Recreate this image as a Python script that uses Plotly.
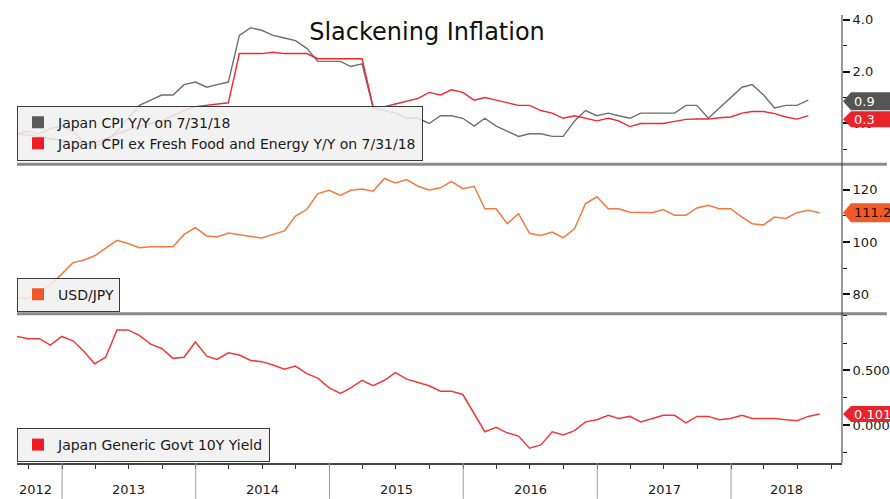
import pandas as pd
import plotly.graph_objects as go

# ---------------- data (monthly, month-end) ----------------
start_month = "2012-08-31"
try:
    months = pd.date_range(start_month, periods=73, freq="ME")
except Exception:
    months = pd.date_range(start_month, periods=73, freq="M")

cpi_yy = [-0.4, -0.3, -0.4, -0.2, -0.1, -0.3, -0.7, -0.9, -0.7, -0.3,
          0.2, 0.7, 0.9, 1.1, 1.1, 1.5, 1.6, 1.4, 1.5, 1.6,
          3.4, 3.7, 3.6, 3.4, 3.3, 3.2, 2.9, 2.4, 2.4, 2.4,
          2.2, 2.3, 0.6, 0.5, 0.4, 0.2, 0.2, 0.0, 0.3, 0.3,
          0.2, -0.1, 0.2, -0.1, -0.3, -0.5, -0.4, -0.4, -0.5, -0.5,
          0.1, 0.5, 0.3, 0.4, 0.3, 0.2, 0.4, 0.4, 0.4, 0.4,
          0.7, 0.7, 0.2, 0.6, 1.0, 1.4, 1.5, 1.1, 0.6, 0.7,
          0.7, 0.9]

cpi_core = [-0.4, -0.45, -0.5, -0.6, -0.65, -0.7, -0.8, -0.75, -0.6, -0.4,
            -0.25, -0.1, 0.0, 0.1, 0.3, 0.5, 0.65, 0.7, 0.75, 0.8,
            2.7, 2.7, 2.7, 2.75, 2.7, 2.7, 2.7, 2.5, 2.5, 2.5,
            2.5, 2.5, 0.65, 0.65, 0.75, 0.87, 0.97, 1.2, 1.1, 1.3,
            1.2, 0.9, 1.0, 0.9, 0.8, 0.7, 0.7, 0.5, 0.4, 0.2,
            0.3, 0.2, 0.1, 0.2, 0.1, -0.12, 0.0, 0.0, 0.0, 0.08,
            0.16, 0.17, 0.17, 0.22, 0.25, 0.4, 0.46, 0.46, 0.38, 0.25,
            0.17, 0.3]

usdjpy = [78.8, 78.4, 80.3, 83.6, 87.7, 92.1, 93.0, 94.7, 97.6, 100.6,
          99.4, 97.8, 98.2, 98.2, 98.2, 102.9, 105.5, 102.3, 101.9, 103.4,
          102.7, 102.2, 101.5, 102.9, 104.2, 109.9, 112.4, 118.5, 119.8, 117.8,
          119.8, 120.3, 119.4, 124.3, 122.6, 123.9, 121.3, 119.9, 120.7, 123.2,
          120.4, 121.3, 112.7, 112.7, 107.0, 110.8, 103.3, 102.5, 103.8, 101.6,
          105.1, 114.7, 117.3, 112.7, 112.7, 111.4, 111.4, 111.2, 112.4, 110.2,
          110.2, 113.0, 114.0, 112.7, 112.7, 109.5, 107.0, 106.5, 109.5, 109.0,
          111.2, 112.1, 111.2]

jgb10y = [0.81, 0.79, 0.79, 0.73, 0.81, 0.77, 0.68, 0.56, 0.62, 0.87,
          0.87, 0.82, 0.74, 0.70, 0.61, 0.62, 0.76, 0.63, 0.60, 0.66,
          0.64, 0.59, 0.58, 0.55, 0.51, 0.54, 0.47, 0.43, 0.34, 0.29,
          0.34, 0.41, 0.36, 0.41, 0.48, 0.42, 0.39, 0.36, 0.31, 0.31,
          0.28, 0.11, -0.06, -0.02, -0.07, -0.10, -0.21, -0.18, -0.06, -0.09,
          -0.05, 0.03, 0.05, 0.09, 0.06, 0.08, 0.03, 0.06, 0.09, 0.09,
          0.02, 0.08, 0.08, 0.05, 0.06, 0.09, 0.06, 0.06, 0.06, 0.05,
          0.04, 0.08, 0.101]

series_names = ["Japan CPI Y/Y on 7/31/18",
                "Japan CPI ex Fresh Food and Energy Y/Y on 7/31/18",
                "USD/JPY",
                "Japan Generic Govt 10Y Yield"]

year_labels = ["2012", "2013", "2014", "2015", "2016", "2017", "2018"]
cpi_ticks = [0, 2, 4]
cpi_ticktext = ["0.0", "2.0", "4.0"]
fx_ticks = [80, 100, 120]
fx_ticktext = ["80", "100", "120"]
yld_ticks = [0.0, 0.5]
yld_ticktext = ["0.000", "0.500"]
tag_text = ["0.9", "0.3", "111.2", "0.101"]

# ---------------- styling ----------------
FONT = "DejaVu Sans"
C_GRAY = "#6e6e6e"
C_RED = "#f0282d"
C_ORANGE = "#f5793f"
C_ORANGE_SQ = "#f0572a"
C_YLD = "#f03a3a"

x_range = ["2012-08-31", "2018-10-31"]
x_dates = list(months)
cpi_dates = x_dates[:len(cpi_yy)]

fig = go.Figure()

# top panel
fig.add_trace(go.Scatter(x=cpi_dates, y=cpi_yy, mode="lines", line=dict(color=C_GRAY, width=1.4),
                         xaxis="x", yaxis="y", showlegend=False, hoverinfo="skip"))
fig.add_trace(go.Scatter(x=cpi_dates, y=cpi_core, mode="lines", line=dict(color=C_RED, width=1.4),
                         xaxis="x", yaxis="y", showlegend=False, hoverinfo="skip"))
# middle
fig.add_trace(go.Scatter(x=x_dates, y=usdjpy, mode="lines", line=dict(color=C_ORANGE, width=1.5),
                         xaxis="x", yaxis="y2", showlegend=False, hoverinfo="skip"))
# bottom
fig.add_trace(go.Scatter(x=x_dates, y=jgb10y, mode="lines", line=dict(color=C_YLD, width=1.5),
                         xaxis="x", yaxis="y3", showlegend=False, hoverinfo="skip"))

# legend entries (square swatches)
legend_specs = [(series_names[0], "#5a5a5a", "legend", "y"),
                (series_names[1], "#ee1c25", "legend", "y"),
                (series_names[2], C_ORANGE_SQ, "legend2", "y2"),
                (series_names[3], "#ee1c25", "legend3", "y3")]
for name, col, lg, ya in legend_specs:
    fig.add_trace(go.Scatter(x=[None], y=[None], mode="markers", name=name,
                             marker=dict(symbol="square", size=13, color=col),
                             xaxis="x", yaxis=ya, legend=lg, showlegend=True))

# geometry (pixels in a 890x499 page)
H_PLOT = 463.0
def py(px):
    return (H_PLOT - px) / H_PLOT

legend_style = dict(bgcolor="rgba(240,240,240,0.85)", bordercolor="#3a3a3a", borderwidth=1,
                    font=dict(family=FONT, size=14, color="#1a1a1a"), xanchor="left",
                    x=0, itemsizing="constant", tracegroupgap=0)

tickfont = dict(family=FONT, size=13, color="#1a1a1a")
yax_common = dict(side="right", anchor="x", showgrid=False, zeroline=False, showline=False,
                  ticks="outside", ticklen=7, tickwidth=2, tickcolor="#111", tickfont=tickfont,
                  fixedrange=True)

shapes = []
annotations = []

# panel separators
for sep in (163, 313):
    shapes.append(dict(type="line", xref="paper", yref="paper", x0=0, x1=(890 - 17) / 828.0,
                       y0=py(sep), y1=py(sep), line=dict(color="#8a8a8a", width=3), layer="above"))
# right axis line
shapes.append(dict(type="line", xref="paper", yref="paper", x0=1, x1=1, y0=0, y1=py(13),
                   line=dict(color="#333", width=1)))

# year separators and labels
year_starts = [pd.Timestamp(f"{y}-01-01") for y in range(2013, 2019)]
for ys in year_starts:
    shapes.append(dict(type="line", xref="x", yref="paper", x0=ys, x1=ys, y0=0, y1=py(499),
                       line=dict(color="#9a9a9a", width=1)))
bounds = [pd.Timestamp(x_range[0])] + year_starts + [pd.Timestamp(x_range[1])]
for i, lab in enumerate(year_labels):
    a, b = bounds[i], bounds[i + 1]
    mid = a + (b - a) / 2
    if i == 0:
        mid = a + (b - a) * 0.42
    annotations.append(dict(xref="x", yref="paper", x=mid, y=py(490), text=lab, showarrow=False,
                            xanchor="center", yanchor="middle",
                            font=dict(family=FONT, size=13, color="#1a1a1a")))

# last-value tags
def value_tag(yref, val, fill, txtcol, text, dy=0.0, h=8.5):
    shapes.append(dict(type="path", xref="paper", yref=yref, xsizemode="pixel", ysizemode="pixel",
                       xanchor=1, yanchor=val,
                       path=f"M 1 {dy} L 9 {dy + h} L 60 {dy + h} L 60 {dy - h} L 9 {dy - h} Z",
                       fillcolor=fill, line=dict(color=fill, width=0), layer="above"))
    annotations.append(dict(xref="paper", yref=yref, x=1, y=val, xshift=10, yshift=dy,
                            xanchor="left", yanchor="middle", text=text, showarrow=False,
                            font=dict(family=FONT, size=13, color=txtcol)))

value_tag("y", cpi_yy[-1], "#555555", "#ffffff", tag_text[0], dy=-1.0, h=9)
value_tag("y", cpi_core[-1], "#e8232b", "#ffffff", tag_text[1], dy=-3.5, h=8)
value_tag("y2", usdjpy[-1], "#f05a28", "#2a0a00", tag_text[2], dy=0, h=9.5)
value_tag("y3", jgb10y[-1], "#e8232b", "#ffffff", tag_text[3], dy=0, h=8)

quarter_ticks = list(pd.date_range("2012-10-01", "2018-10-01", freq="QS"))

fig.update_layout(
    width=890, height=499,
    margin=dict(l=17, r=45, t=0, b=36),
    paper_bgcolor="white", plot_bgcolor="white",
    font=dict(family=FONT),
    title=dict(text="Slackening Inflation", x=427 / 890.0, xref="container", xanchor="center",
               y=1 - 32 / 499.0, yanchor="middle", font=dict(family=FONT, size=24, color="#111")),
    xaxis=dict(type="date", range=x_range, anchor="y3", domain=[0, 1], showgrid=False,
               zeroline=False, showline=True, linecolor="#444", linewidth=1.5,
               tickvals=quarter_ticks, showticklabels=False, ticks="outside", ticklen=4,
               tickcolor="#333", tickwidth=1, fixedrange=True),
    yaxis=dict(domain=[py(161), py(13)], range=[(122 - 161) / 26.0, (122 - 13) / 26.0],
               tickvals=cpi_ticks, ticktext=cpi_ticktext,
               minor=dict(dtick=1, tick0=0, ticks="outside", ticklen=4, tickcolor="#111", tickwidth=1),
               **yax_common),
    yaxis2=dict(domain=[py(311), py(165)],
                range=[100 - (311 - 241) / 2.625, 100 + (241 - 165) / 2.625],
                tickvals=fx_ticks, ticktext=fx_ticktext,
                minor=dict(dtick=10, tick0=0, ticks="outside", ticklen=4, tickcolor="#111", tickwidth=1),
                **yax_common),
    yaxis3=dict(domain=[0, py(315)], range=[(425 - 463) / 110.0, (425 - 315) / 110.0],
                tickvals=yld_ticks, ticktext=yld_ticktext,
                minor=dict(dtick=0.25, tick0=0, ticks="outside", ticklen=4, tickcolor="#111", tickwidth=1),
                **yax_common),
    legend=dict(y=py(104), yanchor="top", **legend_style),
    legend2=dict(y=py(311), yanchor="bottom", **legend_style),
    legend3=dict(y=py(462), yanchor="bottom", **legend_style),
    shapes=shapes,
    annotations=annotations,
    showlegend=True,
    hovermode=False,
)

fig.write_html("out.html",
               config={"displayModeBar": False, "staticPlot": True},
               post_script="document.body.style.margin='0';document.body.style.padding='0';"
                           "document.body.style.overflow='hidden';")
